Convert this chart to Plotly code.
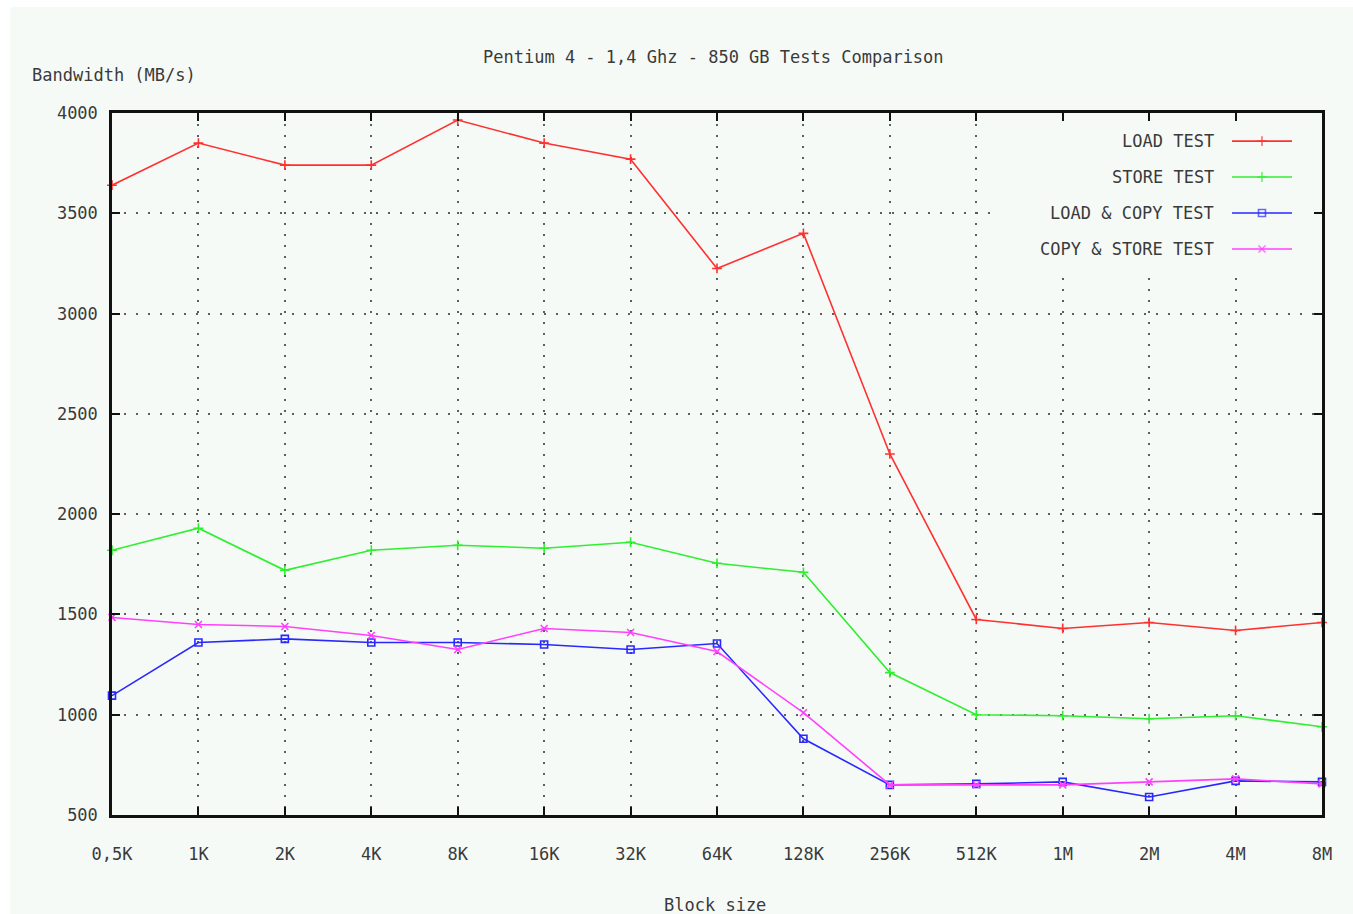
import plotly.graph_objects as go

# Block sizes tested
block_sizes = ["0,5K", "1K", "2K", "4K", "8K", "16K", "32K", "64K",
               "128K", "256K", "512K", "1M", "2M", "4M", "8M"]

# Measured bandwidth in MB/s for each test
load_test = [3640, 3850, 3740, 3740, 3965, 3850, 3770, 3225,
             3400, 2300, 1475, 1430, 1460, 1420, 1460]
store_test = [1820, 1930, 1720, 1820, 1845, 1830, 1860, 1755,
              1710, 1210, 1000, 995, 980, 995, 940]
load_copy_test = [1095, 1360, 1378, 1360, 1360, 1350, 1325, 1355,
                  880, 650, 655, 665, 590, 670, 665]
copy_store_test = [1485, 1450, 1440, 1395, 1325, 1430, 1410, 1315,
                   1010, 650, 650, 650, 665, 680, 655]

y_ticks = [500, 1000, 1500, 2000, 2500, 3000, 3500, 4000]

series = [
    ("LOAD TEST", load_test, "#ff3030", "cross-thin"),
    ("STORE TEST", store_test, "#30ee30", "cross-thin"),
    ("LOAD & COPY TEST", load_copy_test, "#2828ff", "square-open"),
    ("COPY & STORE TEST", copy_store_test, "#ff40ff", "x-thin"),
]

FONT = "DejaVu Sans Mono"
FS = 17
TXT = "#3a3a3a"
PANEL = "#f6faf7"

X_MAX = len(block_sizes) - 1
Y_MIN, Y_MAX = 500, 4000

fig = go.Figure()
x_idx = list(range(len(block_sizes)))

for name, vals, color, sym in series:
    fig.add_trace(go.Scatter(
        x=x_idx, y=vals, mode="lines+markers", name=name,
        line=dict(color=color, width=1.6),
        marker=dict(symbol=sym, size=7, color=color,
                    line=dict(color=color, width=1.6)),
        showlegend=False, cliponaxis=False,
    ))

# key in the upper right: label text to the left of a line sample
key_x0, key_x1, key_xm, key_text_x = 0.9256, 0.9752, 0.9504, 0.9124
key_rows = [0.960, 0.9088, 0.8575, 0.8063]
for (name, vals, color, sym), ky in zip(series, key_rows):
    fig.add_trace(go.Scatter(
        x=[key_x0, key_xm, key_x1], y=[ky, ky, ky],
        xaxis="x2", yaxis="y2", mode="lines+markers",
        line=dict(color=color, width=1.6),
        marker=dict(symbol=sym, size=[0, 7, 0], color=color,
                    line=dict(color=color, width=1.6)),
        showlegend=False, hoverinfo="skip",
    ))
    fig.add_annotation(x=key_text_x, y=ky, xref="paper", yref="paper",
                       text=name, showarrow=False, xanchor="right",
                       yanchor="middle", font=dict(family=FONT, size=FS, color=TXT))

axis_common = dict(
    showline=True, linecolor="#111111", linewidth=2.5, mirror="allticks",
    ticks="inside", ticklen=8, tickwidth=2, tickcolor="#111111",
    showgrid=True, gridcolor="#5e5e5e", gridwidth=1.5,
    zeroline=False,
    tickfont=dict(family=FONT, size=FS, color=TXT),
)

# key area (fractions of the plot area) kept clear of the grid
key_box = dict(x0=0.7256, x1=1.0, y0=0.776, y1=1.0)

fig.update_layout(
    width=1353, height=914,
    margin=dict(l=112, r=31, t=113, b=99),
    paper_bgcolor="white", plot_bgcolor=PANEL,
    xaxis=dict(range=[0, X_MAX], tickmode="array",
               tickvals=x_idx, ticktext=block_sizes, ticklabelstandoff=22,
               griddash="2px,9px", **axis_common),
    yaxis=dict(range=[Y_MIN, Y_MAX], tickmode="array", tickvals=y_ticks,
               ticktext=[str(v) for v in y_ticks], ticklabelstandoff=8,
               griddash="2px,10px", **axis_common),
    xaxis2=dict(range=[0, 1], overlaying="x", visible=False),
    yaxis2=dict(range=[0, 1], overlaying="y", visible=False),
    shapes=[
        # page panel
        dict(type="rect", xref="paper", yref="paper", layer="below",
             x0=(10 - 112) / 1210, x1=(1353 - 112) / 1210,
             y0=(815 - 914) / 702, y1=(815 - 7) / 702,
             fillcolor=PANEL, line=dict(width=0)),
        # drawn between the grid and the traces
        dict(type="rect", xref="x", yref="y", layer="between",
             x0=key_box["x0"] * X_MAX, x1=key_box["x1"] * X_MAX,
             y0=Y_MIN + key_box["y0"] * (Y_MAX - Y_MIN),
             y1=Y_MIN + key_box["y1"] * (Y_MAX - Y_MIN),
             fillcolor=PANEL, line=dict(width=0)),
    ],
    showlegend=False,
)

fig.add_annotation(x=0.4975, y=1.0798, xref="paper", yref="paper",
                   text="Pentium 4 - 1,4 Ghz - 850 GB Tests Comparison",
                   showarrow=False, xanchor="center", yanchor="middle",
                   font=dict(family=FONT, size=FS, color=TXT))
fig.add_annotation(x=(30 - 112) / 1210, y=(815 - 75) / 702, xref="paper", yref="paper",
                   text="Bandwidth (MB/s)", showarrow=False, xanchor="left",
                   yanchor="middle", font=dict(family=FONT, size=FS, color=TXT))
fig.add_annotation(x=(715 - 112) / 1210, y=(815 - 905) / 702, xref="paper", yref="paper",
                   text="Block size", showarrow=False, xanchor="center",
                   yanchor="middle", font=dict(family=FONT, size=FS, color=TXT))

fig.write_html("out.html")
